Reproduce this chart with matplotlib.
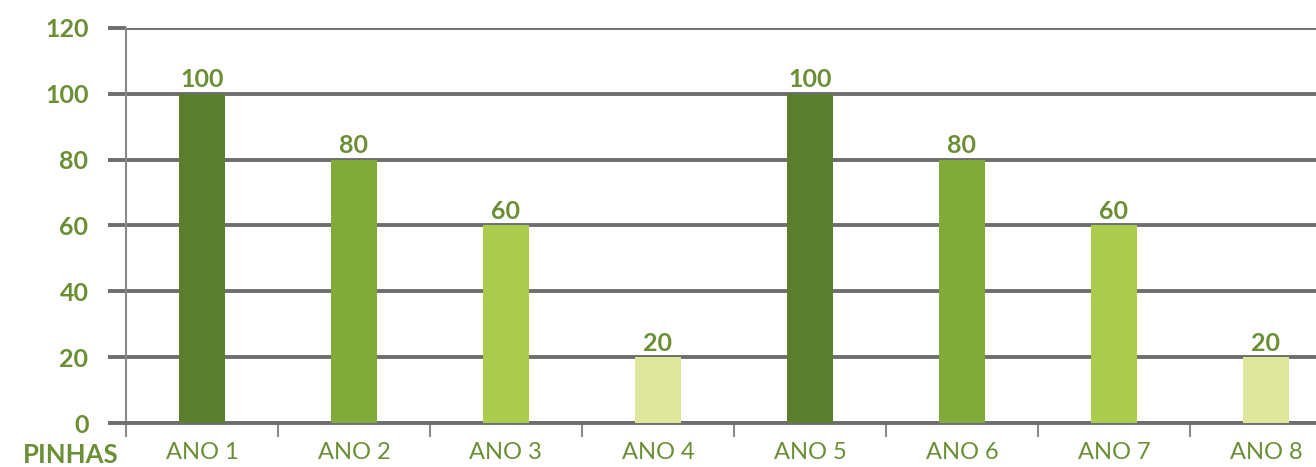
import matplotlib.pyplot as plt
import numpy as np

categorias = ["ANO 1", "ANO 2", "ANO 3", "ANO 4", "ANO 5", "ANO 6", "ANO 7", "ANO 8"]
pinhas = [100, 80, 60, 20, 100, 80, 60, 20]
cores = ["#5b7f2f", "#80ab3a", "#aacb4c", "#dfe79c",
         "#5b7f2f", "#80ab3a", "#aacb4c", "#dfe79c"]
yticks = [0, 20, 40, 60, 80, 100, 120]

verde = "#6a8f35"
plt.rcParams["font.family"] = ["Lato", "DejaVu Sans"]

fig = plt.figure(figsize=(13.16, 4.67), dpi=100)
ax = fig.add_axes([0.0957, 0.0942, 0.924, 0.846])

x = np.arange(len(categorias))
ax.bar(x, pinhas, width=0.3, color=cores, zorder=3)
for xi, v in zip(x, pinhas):
    ax.text(xi, v + 0.8, str(v), ha="center", va="bottom", fontsize=18,
            fontweight="bold", color=verde, zorder=4)

ax.set_xlim(-0.5, len(categorias) - 0.5)
ax.set_ylim(0, 120)
ax.set_yticks(yticks)
ax.set_yticklabels([str(t) for t in yticks], fontsize=18, fontweight="bold", color=verde)
ax.yaxis.grid(True, color="#6e6e6e", linewidth=2.8, zorder=1)
ax.tick_params(axis="y", length=13, width=2.8, color="#6e6e6e", pad=14)

# category ticks sit between the bars
ax.set_xticks(np.arange(len(categorias) + 1) - 0.5)
ax.set_xticklabels([])
ax.set_xticks(x, minor=True)
ax.set_xticklabels(categorias, minor=True, fontsize=17, color=verde)
ax.tick_params(axis="x", which="major", length=10, width=1.5, color="#8a8a8a")
ax.tick_params(axis="x", which="minor", length=0, pad=14)

for s in ["top", "right"]:
    ax.spines[s].set_visible(False)
ax.spines["left"].set_color("#8a8a8a")
ax.spines["left"].set_linewidth(1.5)
ax.spines["bottom"].set_color("#6e6e6e")
ax.spines["bottom"].set_linewidth(2.8)

ax.text(-0.006, -0.082, "PINHAS", transform=ax.transAxes, ha="right", va="center",
        fontsize=18.5, fontweight="bold", color=verde)

fig.savefig("out.png", dpi=100)
